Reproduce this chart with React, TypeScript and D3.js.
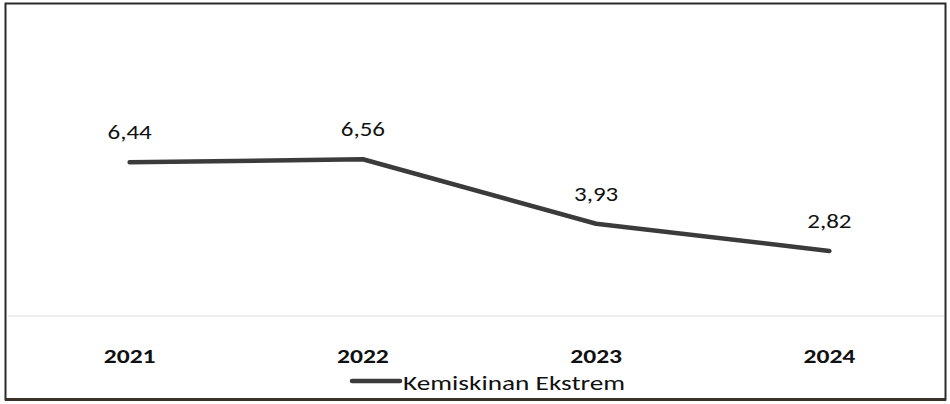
import React from "react";
import * as d3 from "d3";

const years = ["2021", "2022", "2023", "2024"];
const values = [6.44, 6.56, 3.93, 2.82];
const valueLabels = ["6,44", "6,56", "3,93", "2,82"];
const seriesName = "Kemiskinan Ekstrem";

const W = 950;
const H = 404;
const FONT = "Carlito, Calibri, Lato, 'Open Sans', sans-serif";
const SX = 1.25;

export default function App() {
  const x = d3.scaleBand<string>().domain(years).range([13, 946]);
  const y = d3.scaleLinear().domain([0, 8]).range([320, 124]);
  const cx = (d: string) => (x(d) ?? 0) + x.bandwidth() / 2;
  const axisY = 316;

  const line = d3
    .line<number>()
    .x((_, i) => cx(years[i]))
    .y((d) => y(d));

  return (
    <svg
      width={W}
      height={H}
      style={{ position: "absolute", left: 0, top: 0, background: "#fff" }}
    >
      <rect x={0} y={0} width={W} height={H} fill="#fff" />
      {/* frame */}
      <rect x={5.5} y={3.5} width={940} height={396} fill="none" stroke="#2a2a2a" strokeWidth={2} />
      <line x1={5} x2={946} y1={399.5} y2={399.5} stroke="#3a3128" strokeWidth={3} />
      {/* axis line */}
      <line x1={8} x2={944} y1={axisY} y2={axisY} stroke="#d9d9d9" strokeWidth={1} />
      {/* series line */}
      <path
        d={line(values) ?? ""}
        fill="none"
        stroke="#3b3b3b"
        strokeWidth={4.5}
        strokeLinecap="round"
        strokeLinejoin="round"
      />
      {/* value labels */}
      {values.map((v, i) => (
        <text
          key={"v" + i}
          transform={`translate(${cx(years[i])},${y(v) - 23}) scale(${SX},1)`}
          textAnchor="middle"
          fontFamily={FONT}
          fontSize={20}
          fill="#111"
        >
          {valueLabels[i]}
        </text>
      ))}
      {/* category labels */}
      {years.map((d) => (
        <text
          key={d}
          transform={`translate(${cx(d)},363) scale(1.22,1)`}
          textAnchor="middle"
          fontFamily={FONT}
          fontSize={21}
          fontWeight={600}
          fill="#111"
        >
          {d}
        </text>
      ))}
      {/* legend */}
      <line x1={352} x2={400} y1={381} y2={381} stroke="#3b3b3b" strokeWidth={4.5} strokeLinecap="round" />
      <text
        transform={`translate(403,390) scale(1.3,1)`}
        fontFamily={FONT}
        fontSize={21}
        fill="#111"
      >
        {seriesName}
      </text>
    </svg>
  );
}
